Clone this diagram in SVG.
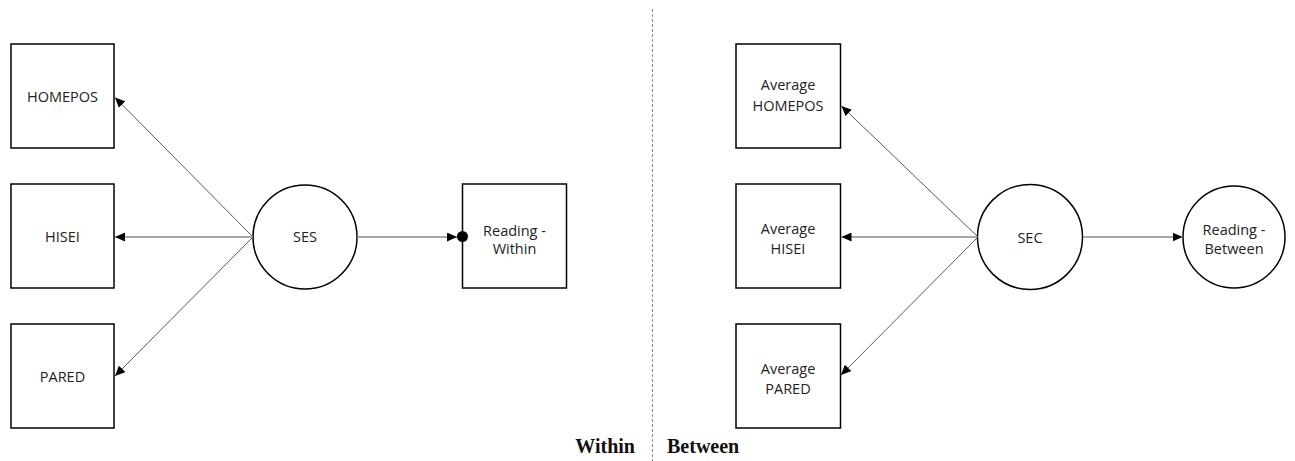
<svg xmlns="http://www.w3.org/2000/svg" width="1295" height="461" viewBox="0 0 1295 461">
<style>
.box{fill:#fff;stroke:#000;stroke-width:1.5}
.lbl{font-family:"Open Sans","Liberation Sans",sans-serif;font-size:14.5px;fill:#222;text-anchor:middle}
.edge{stroke:#5a5a5a;stroke-width:1;fill:none;marker-end:url(#arr)}
.hedge{stroke:#8a8a8a;stroke-width:1.5;fill:none;marker-end:url(#arr)}
.side{font-family:"Liberation Serif","Times New Roman",serif;font-weight:bold;font-size:20px;fill:#111}
</style>
<defs>
<marker id="arr" markerUnits="userSpaceOnUse" markerWidth="11" markerHeight="9" refX="10" refY="4.5" orient="auto">
<path d="M0,0 L10,4.5 L0,9 Z" fill="#000"/>
</marker>
</defs>
<rect width="1295" height="461" fill="#fff"/>
<g id="divider">
<line x1="652.5" y1="9" x2="652.5" y2="461" stroke="#8c8c8c" stroke-width="1" stroke-dasharray="3,2"/>
</g>
<g id="n-homepos"><rect class="box" x="11" y="44" width="103" height="104"/><text class="lbl" x="62.5" y="101.5">HOMEPOS</text></g>
<g id="n-hisei"><rect class="box" x="11" y="184" width="103" height="104"/><text class="lbl" x="62.5" y="242">HISEI</text></g>
<g id="n-pared"><rect class="box" x="11" y="324" width="103" height="104"/><text class="lbl" x="62.5" y="382">PARED</text></g>
<g id="n-ses"><circle class="box" cx="305" cy="237" r="52"/><text class="lbl" x="305" y="242">SES</text></g>
<g id="n-reading-within"><rect class="box" x="462.5" y="184" width="104" height="104"/><text class="lbl" x="514.5" y="235.5">Reading -</text><text class="lbl" x="514.5" y="253.5">Within</text></g>
<g id="n-avg-homepos"><rect class="box" x="736" y="44" width="104.5" height="104"/><text class="lbl" x="788" y="90">Average</text><text class="lbl" x="788" y="110.5">HOMEPOS</text></g>
<g id="n-avg-hisei"><rect class="box" x="736" y="184" width="104.5" height="104"/><text class="lbl" x="788" y="233.5">Average</text><text class="lbl" x="788" y="254">HISEI</text></g>
<g id="n-avg-pared"><rect class="box" x="736" y="324" width="104.5" height="104"/><text class="lbl" x="788" y="373.5">Average</text><text class="lbl" x="788" y="394">PARED</text></g>
<g id="n-sec"><circle class="box" cx="1030" cy="237" r="52.5"/><text class="lbl" x="1030" y="242.5">SEC</text></g>
<g id="n-reading-between"><circle class="box" cx="1234" cy="237" r="51"/><text class="lbl" x="1234" y="234.5">Reading -</text><text class="lbl" x="1234" y="254">Between</text></g>
<g id="connectors">
<line class="edge" x1="253" y1="237" x2="115" y2="97.5"/>
<line class="hedge" x1="253" y1="237" x2="115" y2="237"/>
<line class="edge" x1="253" y1="237" x2="115" y2="376"/>
<line class="hedge" x1="357" y1="237" x2="457" y2="237"/>
<circle cx="462.5" cy="236.5" r="5.5" fill="#000"/>
<line class="edge" x1="978" y1="237" x2="841.5" y2="106"/>
<line class="hedge" x1="978" y1="237" x2="841.5" y2="237"/>
<line class="edge" x1="978" y1="237" x2="841" y2="375"/>
<line class="hedge" x1="1083" y1="237" x2="1182.5" y2="237"/>
</g>
<g id="side-labels">
<text class="side" x="635" y="453" text-anchor="end">Within</text>
<text class="side" x="667" y="453">Between</text>
</g>
</svg>
